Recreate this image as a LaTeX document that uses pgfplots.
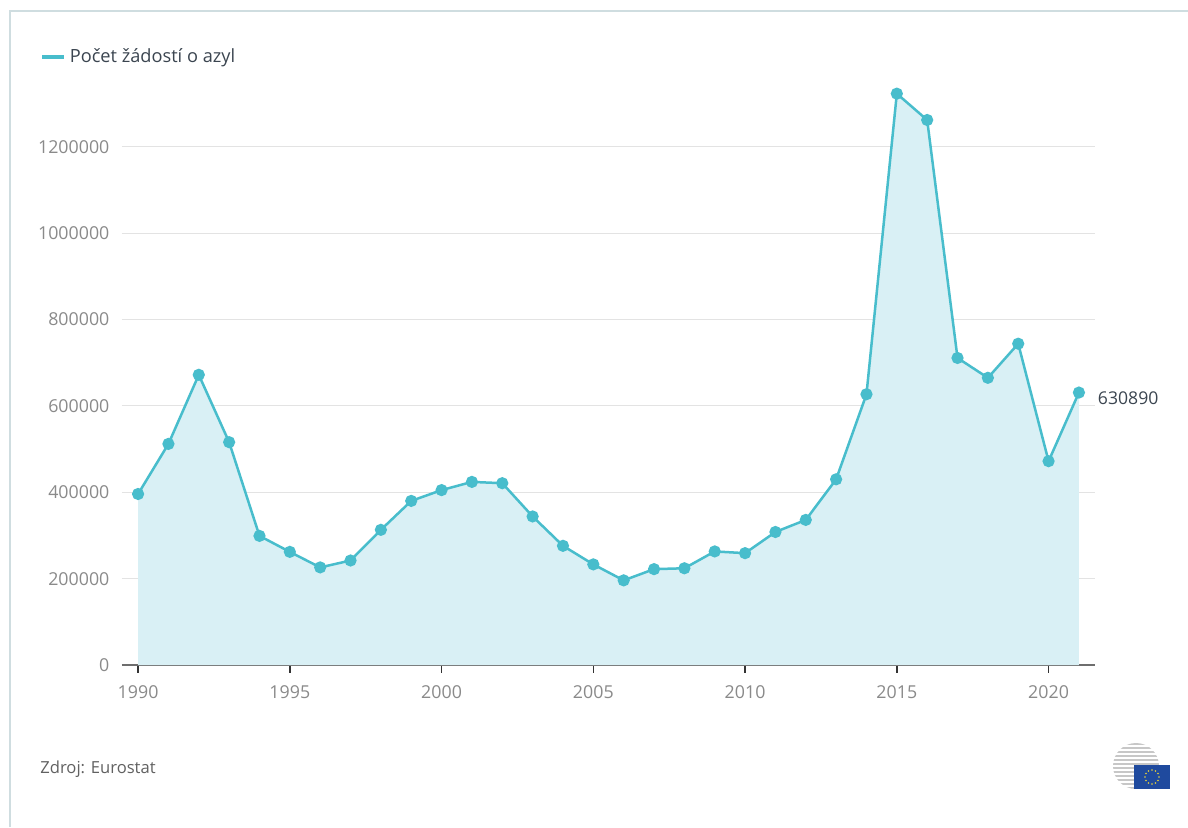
\documentclass[border=0pt]{standalone}
\usepackage{pgfplots}
\pgfplotsset{compat=1.18}
\usetikzlibrary{calc}
\usepackage{fontspec}
\setmainfont{Open Sans}

\definecolor{seriesline}{HTML}{48BDCC}
\definecolor{seriesfill}{HTML}{D9F0F5}
\definecolor{gridgray}{HTML}{E3E3E3}
\definecolor{ticktext}{HTML}{8A8A8A}
\definecolor{axisgray}{HTML}{6E6E6E}
\definecolor{tickdark}{HTML}{333333}
\definecolor{legendtext}{HTML}{3B4550}
\definecolor{frameblue}{HTML}{CFDDE0}
\definecolor{eublue}{HTML}{1F4A9E}
\definecolor{euyellow}{HTML}{E8D23A}

% Asylum applications per year
\pgfplotstableread{
year applications
1990 396000
1991 512000
1992 672000
1993 516000
1994 299000
1995 262000
1996 226000
1997 242000
1998 313000
1999 380000
2000 405000
2001 424000
2002 421000
2003 344000
2004 276000
2005 233000
2006 196000
2007 222000
2008 224000
2009 263000
2010 259000
2011 308000
2012 336000
2013 430000
2014 627000
2015 1323000
2016 1262000
2017 711000
2018 665000
2019 744000
2020 472000
2021 630890
}\asylumdata

\begin{document}
\begin{tikzpicture}
  \useasboundingbox (0,0) rectangle (594pt,413.5pt);
  \fill[white] (0,0) rectangle (594pt,413.5pt);

  \begin{axis}[
    at={(61pt,81pt)}, anchor=south west,
    scale only axis,
    width=486.5pt, height=291.5pt,
    xmin=1989.47, xmax=2021.53,
    ymin=0, ymax=1350000,
    axis lines*=left,
    y axis line style={draw=none},
    x axis line style={axisgray, line width=0.9pt, -},
    xtick={1990,1995,...,2020},
    ytick={0,200000,...,1200000},
    ymajorgrids,
    major grid style={gridgray, line width=0.6pt},
    xtick style={tickdark, line width=0.7pt},
    ytick style={draw=none},
    major tick length=3.8pt,
    tick align=outside,
    /pgf/number format/assume math mode=true,
    /pgf/number format/set thousands separator={},
    /pgf/number format/1000 sep={},
    scaled y ticks=false,
    yticklabel style={/pgf/number format/fixed, /pgf/number format/precision=0, font=\fontsize{8.9}{10}\selectfont, text=ticktext, xshift=1pt},
    xticklabel style={font=\fontsize{8.9}{10}\selectfont, text=ticktext, yshift=-3pt},
    clip=false,
    legend style={at={(-0.084,1.043)}, anchor=west, draw=none, fill=none,
      font=\fontsize{9.1}{11}\selectfont, text=legendtext, inner sep=0pt,
      /tikz/every even column/.append style={column sep=4pt}},
    legend cell align=left,
    legend image code/.code={\draw[seriesline, line width=1.6pt] (0pt,0pt) -- (11pt,0pt);},
  ]
    \addplot[fill=seriesfill, draw=none, forget plot] table[x=year, y=applications] {\asylumdata} \closedcycle;
    \addplot[seriesline, line width=1.25pt, mark=*, mark size=2.4pt, mark options={fill=seriesline, draw=seriesline}] table[x=year, y=applications] {\asylumdata};
    \addlegendentry{Počet žádostí o azyl}
    \node[anchor=west, font=\fontsize{8.8}{10}\selectfont, text=legendtext, xshift=6pt, yshift=-3pt] at (axis cs:2021,630890) {630890};
  \end{axis}

  % frame, source note and emblem, in pixel-like units measured from the top left
  \begin{scope}[x=0.5pt, y=-0.5pt, shift={(0pt,413.5pt)}]
    \draw[frameblue, line width=1pt] (10,827) -- (10,11) -- (1188,11);
    \node[anchor=west, font=\fontsize{8.3}{10}\selectfont, text=black!62, inner sep=0pt] at (40,769) {Zdroj: Eurostat};
    \begin{scope}
      \clip (1136,766) circle (23);
      \foreach \yy in {744,748,...,790} {
        \draw[black!22, line width=1.1pt] (1110,\yy) -- (1160,\yy);
      }
    \end{scope}
    \fill[eublue] (1134,765) rectangle (1170,789);
    \foreach \a in {0,30,...,330} {
      \fill[euyellow] ($(1152,777)+(\a:7)$) circle (0.9);
    }
  \end{scope}
\end{tikzpicture}
\end{document}
